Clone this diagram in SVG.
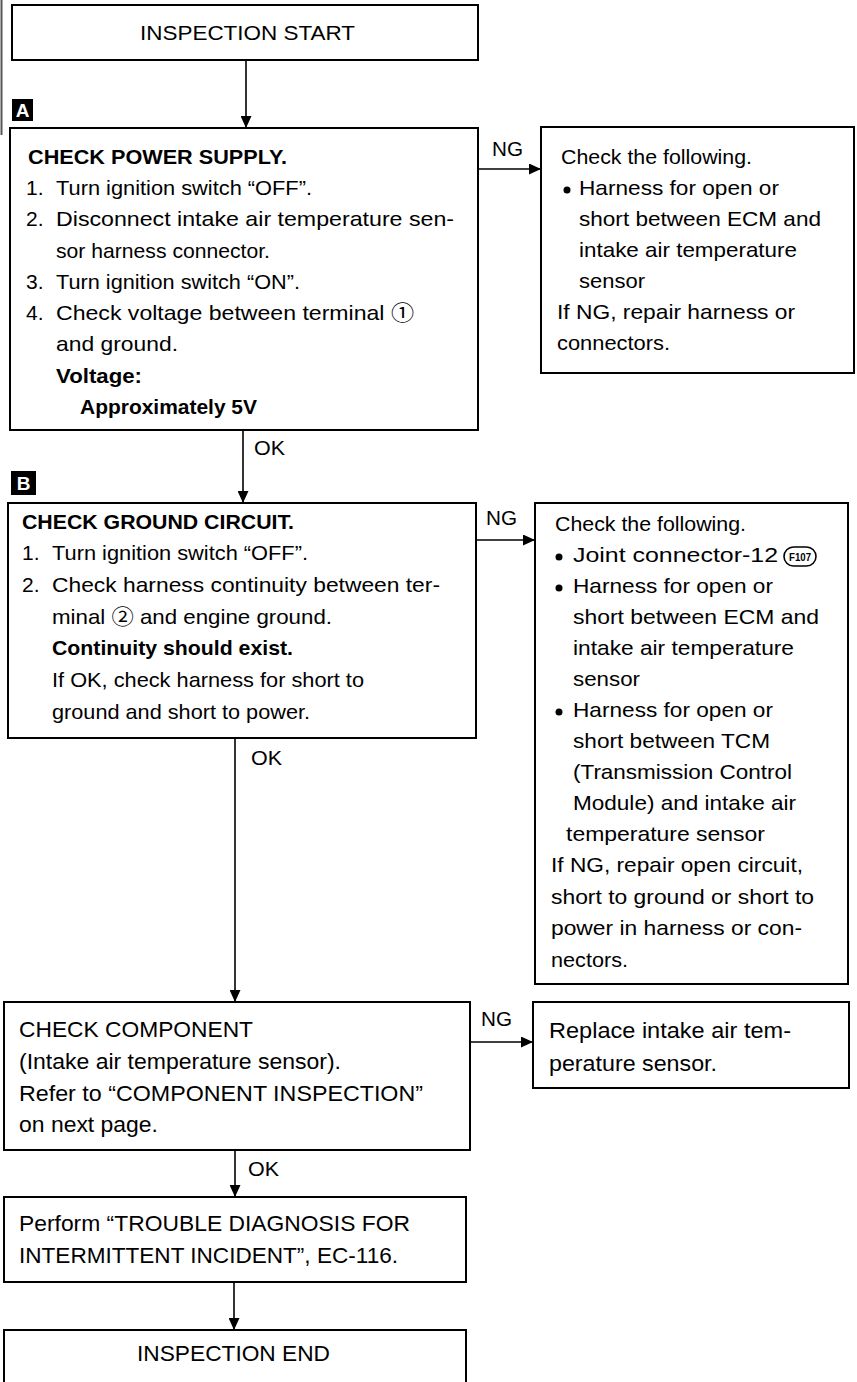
<svg xmlns="http://www.w3.org/2000/svg" width="857" height="1382" viewBox="0 0 857 1382">
<style>
.box{fill:#fff;stroke:#000;stroke-width:2}
.t{font-family:"Liberation Sans",Arial,"Noto Sans CJK JP",sans-serif;font-size:21px;fill:#000}
.b{font-weight:bold}
.s{font-size:22px}
.cn line{stroke:#000;stroke-width:1.6}
.dot{fill:#000}
.mk{fill:#000}
.mt{font-family:"Liberation Sans",Arial,sans-serif;font-size:19px;font-weight:bold;fill:#fff}
</style>
<defs>
<marker id="ah" markerUnits="userSpaceOnUse" markerWidth="12" markerHeight="11" refX="12" refY="5.5" orient="auto">
<path d="M0,0 L12,5.5 L0,11 z" fill="#000"/>
</marker>
</defs>
<rect width="857" height="1382" fill="#fff"/>
<line x1="1.5" y1="0" x2="1.5" y2="135" stroke="#555" stroke-width="2"/>

<g id="connectors" class="cn">
<line x1="246" y1="60" x2="246" y2="128" marker-end="url(#ah)"/>
<line x1="478" y1="169" x2="541" y2="169" marker-end="url(#ah)"/>
<line x1="243" y1="430" x2="243" y2="503" marker-end="url(#ah)"/>
<line x1="476" y1="540" x2="535" y2="540" marker-end="url(#ah)"/>
<line x1="235" y1="738" x2="235" y2="1002" marker-end="url(#ah)"/>
<line x1="470" y1="1042" x2="533" y2="1042" marker-end="url(#ah)"/>
<line x1="235" y1="1150" x2="235" y2="1197" marker-end="url(#ah)"/>
<line x1="234" y1="1282" x2="234" y2="1330" marker-end="url(#ah)"/>
<text class="t" x="492" y="156" textLength="31" lengthAdjust="spacingAndGlyphs">NG</text>
<text class="t" x="254" y="455" textLength="31" lengthAdjust="spacingAndGlyphs">OK</text>
<text class="t" x="486" y="525" textLength="31" lengthAdjust="spacingAndGlyphs">NG</text>
<text class="t" x="251" y="765" textLength="31" lengthAdjust="spacingAndGlyphs">OK</text>
<text class="t" x="481" y="1026" textLength="31" lengthAdjust="spacingAndGlyphs">NG</text>
<text class="t" x="248" y="1176" textLength="31" lengthAdjust="spacingAndGlyphs">OK</text>
</g>

<g id="start">
<rect class="box" x="12" y="5" width="466" height="55"/>
<text class="t" x="140" y="40" textLength="215" lengthAdjust="spacingAndGlyphs">INSPECTION START</text>
</g>

<g id="markerA">
<rect class="mk" x="12" y="99" width="21" height="22"/>
<text class="mt" x="22.5" y="117" text-anchor="middle">A</text>
</g>

<g id="checkPower">
<rect class="box" x="10" y="128" width="468" height="302"/>
<text class="t b" x="28" y="164" textLength="259" lengthAdjust="spacingAndGlyphs">CHECK POWER SUPPLY.</text>
<text class="t" x="26" y="195">1.</text>
<text class="t" x="56" y="195" textLength="256" lengthAdjust="spacingAndGlyphs">Turn ignition switch “OFF”.</text>
<text class="t" x="26" y="226">2.</text>
<text class="t" x="56" y="226" textLength="398" lengthAdjust="spacingAndGlyphs">Disconnect intake air temperature sen-</text>
<text class="t" x="56" y="258" textLength="214" lengthAdjust="spacingAndGlyphs">sor harness connector.</text>
<text class="t" x="26" y="289">3.</text>
<text class="t" x="56" y="289" textLength="244" lengthAdjust="spacingAndGlyphs">Turn ignition switch “ON”.</text>
<text class="t" x="26" y="320">4.</text>
<text class="t" x="56" y="320" textLength="358" lengthAdjust="spacingAndGlyphs">Check voltage between terminal ①</text>
<text class="t" x="56" y="351" textLength="122" lengthAdjust="spacingAndGlyphs">and ground.</text>
<text class="t b" x="56" y="383" textLength="86" lengthAdjust="spacingAndGlyphs">Voltage:</text>
<text class="t b" x="80" y="414" textLength="177" lengthAdjust="spacingAndGlyphs">Approximately 5V</text>
</g>

<g id="ngPower">
<rect class="box" x="541" y="127" width="313" height="246"/>
<text class="t" x="561" y="164" textLength="191" lengthAdjust="spacingAndGlyphs">Check the following.</text>
<circle class="dot" cx="567" cy="190" r="3.5"/>
<text class="t" x="579" y="195" textLength="200" lengthAdjust="spacingAndGlyphs">Harness for open or</text>
<text class="t" x="579" y="226" textLength="242" lengthAdjust="spacingAndGlyphs">short between ECM and</text>
<text class="t" x="579" y="257" textLength="218" lengthAdjust="spacingAndGlyphs">intake air temperature</text>
<text class="t" x="579" y="288" textLength="66" lengthAdjust="spacingAndGlyphs">sensor</text>
<text class="t" x="557" y="319" textLength="238" lengthAdjust="spacingAndGlyphs">If NG, repair harness or</text>
<text class="t" x="557" y="350" textLength="113" lengthAdjust="spacingAndGlyphs">connectors.</text>
</g>

<g id="markerB">
<rect class="mk" x="11" y="471" width="25" height="24"/>
<text class="mt" x="23.5" y="490" text-anchor="middle">B</text>
</g>

<g id="checkGround">
<rect class="box" x="8" y="503" width="468" height="235"/>
<text class="t b" x="22" y="529" textLength="272" lengthAdjust="spacingAndGlyphs">CHECK GROUND CIRCUIT.</text>
<text class="t" x="22" y="560">1.</text>
<text class="t" x="52" y="560" textLength="256" lengthAdjust="spacingAndGlyphs">Turn ignition switch “OFF”.</text>
<text class="t" x="22" y="592">2.</text>
<text class="t" x="52" y="592" textLength="388" lengthAdjust="spacingAndGlyphs">Check harness continuity between ter-</text>
<text class="t" x="52" y="624" textLength="280" lengthAdjust="spacingAndGlyphs">minal ②  and engine ground.</text>
<text class="t b" x="52" y="655" textLength="241" lengthAdjust="spacingAndGlyphs">Continuity should exist.</text>
<text class="t" x="52" y="687" textLength="312" lengthAdjust="spacingAndGlyphs">If OK, check harness for short to</text>
<text class="t" x="52" y="719" textLength="258" lengthAdjust="spacingAndGlyphs">ground and short to power.</text>
</g>

<g id="ngGround">
<rect class="box" x="535" y="503" width="313" height="481"/>
<text class="t" x="555" y="531" textLength="191" lengthAdjust="spacingAndGlyphs">Check the following.</text>
<circle class="dot" cx="559" cy="557" r="3.5"/>
<text class="t" x="573" y="562" textLength="205" lengthAdjust="spacingAndGlyphs">Joint connector-12</text>
<g id="badgeF107">
<rect x="784" y="547" width="32" height="19" rx="9.5" fill="none" stroke="#000" stroke-width="1.6"/>
<text x="800" y="561" text-anchor="middle" font-family="Liberation Sans,Arial,sans-serif" font-size="11" font-weight="bold" textLength="22" lengthAdjust="spacingAndGlyphs">F107</text>
</g>
<circle class="dot" cx="559" cy="588" r="3.5"/>
<text class="t" x="573" y="593" textLength="200" lengthAdjust="spacingAndGlyphs">Harness for open or</text>
<text class="t" x="573" y="624" textLength="246" lengthAdjust="spacingAndGlyphs">short between ECM and</text>
<text class="t" x="573" y="655" textLength="221" lengthAdjust="spacingAndGlyphs">intake air temperature</text>
<text class="t" x="573" y="686" textLength="67" lengthAdjust="spacingAndGlyphs">sensor</text>
<circle class="dot" cx="559" cy="712" r="3.5"/>
<text class="t" x="573" y="717" textLength="200" lengthAdjust="spacingAndGlyphs">Harness for open or</text>
<text class="t" x="573" y="748" textLength="197" lengthAdjust="spacingAndGlyphs">short between TCM</text>
<text class="t" x="573" y="779" textLength="219" lengthAdjust="spacingAndGlyphs">(Transmission Control</text>
<text class="t" x="573" y="810" textLength="223" lengthAdjust="spacingAndGlyphs">Module) and intake air</text>
<text class="t" x="566" y="841" textLength="199" lengthAdjust="spacingAndGlyphs">temperature sensor</text>
<text class="t" x="551" y="872" textLength="252" lengthAdjust="spacingAndGlyphs">If NG, repair open circuit,</text>
<text class="t" x="551" y="904" textLength="263" lengthAdjust="spacingAndGlyphs">short to ground or short to</text>
<text class="t" x="551" y="935" textLength="251" lengthAdjust="spacingAndGlyphs">power in harness or con-</text>
<text class="t" x="551" y="967" textLength="77" lengthAdjust="spacingAndGlyphs">nectors.</text>
</g>

<g id="checkComponent">
<rect class="box" x="4" y="1002" width="466" height="148"/>
<text class="t s" x="19" y="1037" textLength="234" lengthAdjust="spacingAndGlyphs">CHECK COMPONENT</text>
<text class="t s" x="19" y="1069" textLength="322" lengthAdjust="spacingAndGlyphs">(Intake air temperature sensor).</text>
<text class="t s" x="19" y="1101" textLength="404" lengthAdjust="spacingAndGlyphs">Refer to “COMPONENT INSPECTION”</text>
<text class="t s" x="19" y="1132" textLength="139" lengthAdjust="spacingAndGlyphs">on next page.</text>
</g>

<g id="replace">
<rect class="box" x="533" y="1002" width="316" height="86"/>
<text class="t s" x="549" y="1038" textLength="242" lengthAdjust="spacingAndGlyphs">Replace intake air tem-</text>
<text class="t s" x="549" y="1071" textLength="168" lengthAdjust="spacingAndGlyphs">perature sensor.</text>
</g>

<g id="perform">
<rect class="box" x="4" y="1197" width="462" height="85"/>
<text class="t s" x="19" y="1231" textLength="391" lengthAdjust="spacingAndGlyphs">Perform “TROUBLE DIAGNOSIS FOR</text>
<text class="t s" x="19" y="1263" textLength="379" lengthAdjust="spacingAndGlyphs">INTERMITTENT INCIDENT”, EC-116.</text>
</g>

<g id="end">
<rect class="box" x="4" y="1330" width="462" height="62"/>
<text class="t s" x="137" y="1361" textLength="193" lengthAdjust="spacingAndGlyphs">INSPECTION END</text>
</g>
</svg>
